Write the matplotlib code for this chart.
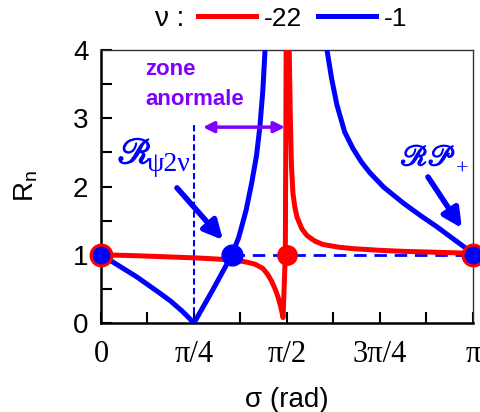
import numpy as np
import matplotlib
matplotlib.use("Agg")
import matplotlib.pyplot as plt
import matplotlib.patheffects as pe

plt.rcParams['font.family'] = ['Liberation Sans', 'DejaVu Sans']
plt.rcParams['mathtext.fontset'] = 'custom'
plt.rcParams['mathtext.rm'] = 'Liberation Sans'
plt.rcParams['mathtext.it'] = 'Liberation Sans:italic'

# sigma in units of pi
# nu = -1 (blue), branch up to the asymptote
blue_s1 = [0.0, 0.03, 0.0625, 0.095, 0.125, 0.155, 0.1875, 0.22, 0.25,
           0.275, 0.30, 0.325, 0.352, 0.37, 0.39, 0.405, 0.418, 0.427, 0.435, 0.441, 0.447]
blue_r1 = [1.0, 0.9, 0.79, 0.68, 0.565, 0.45, 0.32, 0.165, 0.0,
           0.24, 0.48, 0.73, 1.0, 1.25, 1.65, 2.05, 2.45, 2.87, 3.4, 4.0, 4.8]
# nu = -1, branch after the asymptote
blue_s2 = [0.600, 0.6075, 0.62, 0.634, 0.655, 0.677, 0.70, 0.723, 0.76, 0.812,
           0.86, 0.903, 0.95, 1.0]
blue_r2 = [4.3, 4.0, 3.58, 3.20, 2.80, 2.56, 2.36, 2.20, 1.99, 1.76,
           1.57, 1.41, 1.22, 1.02]
# nu = -22 (red), dip then pole near pi/2
red_s = [0.0, 0.1, 0.2, 0.27, 0.352, 0.39, 0.415, 0.435, 0.447, 0.458, 0.468, 0.476,
         0.483, 0.4895, 0.4955, 0.4985,
         0.503, 0.506, 0.509, 0.512, 0.516, 0.521, 0.527, 0.54, 0.554, 0.575, 0.597,
         0.64, 0.677, 0.75, 0.812, 0.88, 0.946, 1.0]
red_r = [1.0, 0.985, 0.965, 0.95, 0.925, 0.895, 0.86, 0.80, 0.72, 0.62, 0.50, 0.38,
         0.24, 0.08, 1.0, 5.0,
         5.0, 4.0, 3.0, 2.3, 1.9, 1.7, 1.55, 1.38, 1.28, 1.2, 1.15,
         1.11, 1.09, 1.065, 1.05, 1.04, 1.03, 1.02]

s_cross = 0.352   # blue curve crosses R=1
s_arrow = [0.274, 0.4946]  # zone anormale
xtick_labels = ['0', '', 'π/4', '', 'π/2', '', '3π/4', '', 'π']

blue = '#0000FF'
red = '#FF0000'
purple = '#8000FF'

fig = plt.figure(figsize=(4.8, 4.12), dpi=100)
ax = fig.add_axes([0.2104, 0.216, 0.775, 0.6626])

pi = np.pi
ax.plot(np.array(red_s) * pi, red_r, color=red, lw=3.6, label='-22', zorder=4)
ax.plot(np.array(blue_s1) * pi, blue_r1, color=blue, lw=3.6, label='-1', zorder=3)
ax.plot(np.array(blue_s2) * pi, blue_r2, color=blue, lw=3.6, zorder=3)

# guides
ax.plot([pi / 4, pi / 4], [0, 2.93], color=blue, lw=1.5, ls=(0, (3, 1.6)), zorder=2)
ax.plot([s_cross * pi, pi], [1, 1], color=blue, lw=2, ls=(0, (4.5, 2.8)), zorder=2)

# markers
ax.plot([0, pi], [1, 1], 'o', ms=15, mfc=blue, mec=red, mew=2.2, clip_on=False, zorder=6)
ax.plot([s_cross * pi], [1], 'o', ms=15, color=blue, zorder=6)
ax.plot([pi / 2], [1], 'o', ms=14, color=red, zorder=6)

# zone anormale
ax.annotate('', xy=(s_arrow[1] * pi, 2.87), xytext=(s_arrow[0] * pi, 2.87),
            arrowprops=dict(arrowstyle='<|-|>', color=purple, lw=2.5, mutation_scale=16,
                            shrinkA=0, shrinkB=0))
ax.text(0.118 * pi, 3.63, 'zone', color=purple, fontsize=16, fontweight='bold', va='baseline')
ax.text(0.118 * pi, 3.19, 'anormale', color=purple, fontsize=16, fontweight='bold', va='baseline')

# labels with arrows
bold = [pe.withStroke(linewidth=0.9, foreground=blue)]
p1 = (0.045 * pi, 2.34)
ax.text(*p1, r'$\mathscr{R}$', color=blue, fontsize=26,
        math_fontfamily='stix', va='baseline', path_effects=bold)
ax.annotate('ψ2ν', xy=p1, xytext=(29, -8), textcoords='offset pixels',
            color=blue, fontsize=20, fontfamily='Liberation Serif', va='baseline')
ax.annotate('', xy=(0.328 * pi, 1.216), xytext=(0.2043 * pi, 1.98),
            arrowprops=dict(arrowstyle='-|>', color=blue, lw=4, mutation_scale=28,
                            shrinkA=0, shrinkB=0))
p2 = (0.805 * pi, 2.31)
ax.text(*p2, r'$\mathscr{R}\mathscr{P}$', color=blue, fontsize=21,
        math_fontfamily='stix', va='baseline', path_effects=bold)
ax.annotate('+', xy=p2, xytext=(55, -9), textcoords='offset pixels',
            color=blue, fontsize=16, fontfamily='Liberation Serif', va='baseline')
ax.annotate('', xy=(0.970 * pi, 1.39), xytext=(0.879 * pi, 2.14),
            arrowprops=dict(arrowstyle='-|>', color=blue, lw=4, mutation_scale=28,
                            shrinkA=0, shrinkB=0))

ax.set_xlim(0, pi)
ax.set_ylim(0, 4)
ax.set_xticks(np.arange(0, 9) * pi / 8)
ax.set_xticklabels(xtick_labels, fontfamily='Liberation Serif', fontsize=22)
ax.set_yticks([0, 1, 2, 3, 4])
ax.set_yticks(np.arange(0.5, 4, 1.0), minor=True)
ax.tick_params(axis='both', which='both', direction='in', length=8, width=1.5, top=False, right=False)
ax.tick_params(axis='y', labelsize=20, pad=9)
ax.tick_params(axis='x', pad=12)
for side in ['left', 'bottom']:
    ax.spines[side].set_linewidth(1.8)
for side in ['top', 'right']:
    ax.spines[side].set_linewidth(1.0)
    ax.spines[side].set_color('#333333')

ax.set_xlabel('σ (rad)', fontsize=20, labelpad=13)
ax.set_ylabel(r'R$_{\mathrm{n}}$', fontsize=20, labelpad=24)

fig.text(0.323, 0.955, 'ν :', fontsize=20, va='center')
fig.legend(*ax.get_legend_handles_labels(), loc='center', bbox_to_anchor=(0.63, 0.955),
           ncol=2, frameon=False, fontsize=19, handlelength=2.2, handletextpad=0.3,
           columnspacing=0.6, borderaxespad=0, borderpad=0)

fig.savefig('out.png', dpi=100)
